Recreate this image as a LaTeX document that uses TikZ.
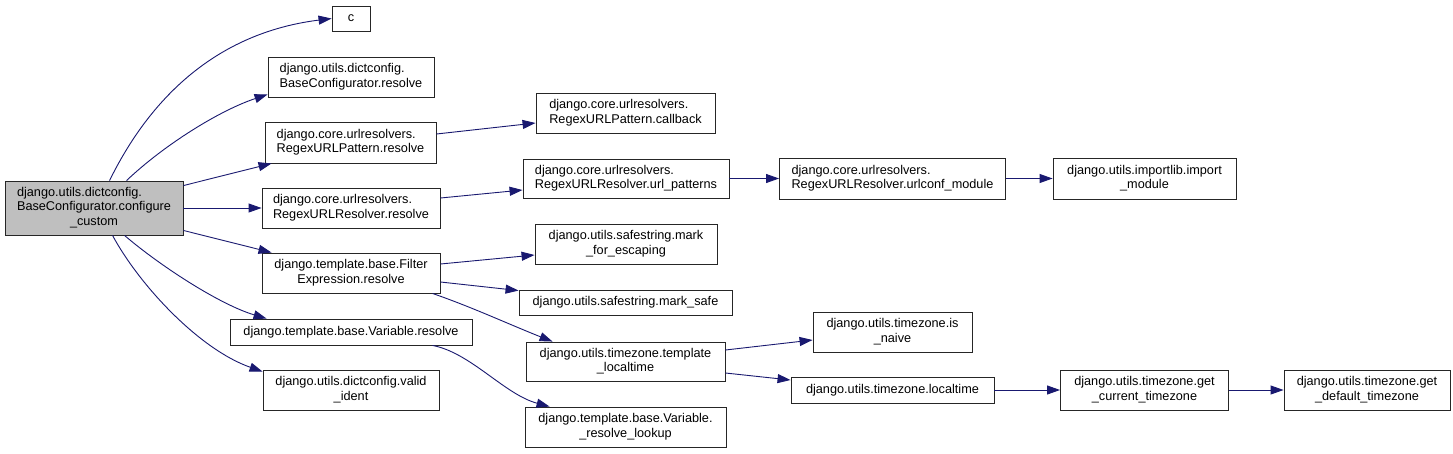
\documentclass[tikz,border=0pt]{standalone}
\usepackage{fontspec}
\setmainfont{Liberation Sans}
\usetikzlibrary{arrows.meta,calc}
\definecolor{edgeblue}{HTML}{191970}
\definecolor{mainfill}{HTML}{BFBFBF}
\newcommand{\twol}[2]{\begin{tabular}{@{}l@{}}#1\\\multicolumn{1}{@{}c@{}}{#2}\end{tabular}}
\begin{document}
\begin{tikzpicture}[x=1pt,y=-1pt,
  box/.style={draw=black!85, line width=0.9pt, fill=white, inner sep=0pt,
    font=\fontsize{12.7}{14.3}\selectfont},
  edge/.style={draw=edgeblue, line width=0.9pt, -{Triangle[length=13pt,width=9pt]}}]
\fill[white] (0,0) rectangle (1453,453);
\useasboundingbox (0,0) rectangle (1453,453);
% column 0
\node[box, fill=mainfill, minimum width=178pt, minimum height=54pt] (main) at (94,208)
  {\begin{tabular}{@{}l@{}}django.utils.dictconfig.\\BaseConfigurator.configure\\\multicolumn{1}{@{}c@{}}{\_custom}\end{tabular}};
% column 1
\node[box, minimum width=38pt, minimum height=25pt] (c) at (351,18.5) {c};
\node[box, minimum width=166pt, minimum height=40pt] (bres) at (351,77)
  {\twol{django.utils.dictconfig.}{BaseConfigurator.resolve}};
\node[box, minimum width=171pt, minimum height=41pt] (pres) at (350.5,142.5)
  {\twol{django.core.urlresolvers.}{RegexURLPattern.resolve}};
\node[box, minimum width=178pt, minimum height=40pt] (rres) at (351,208)
  {\twol{django.core.urlresolvers.}{RegexURLResolver.resolve}};
\node[box, minimum width=178pt, minimum height=40pt] (fres) at (351,273)
  {\twol{django.template.base.Filter}{Expression.resolve}};
\node[box, minimum width=242pt, minimum height=26pt] (vres) at (351,332)
  {django.template.base.Variable.resolve};
\node[box, minimum width=176pt, minimum height=40pt] (vid) at (351,390)
  {\twol{django.utils.dictconfig.valid}{\_ident}};
% column 2
\node[box, minimum width=179pt, minimum height=40pt] (cb) at (625.5,113)
  {\twol{django.core.urlresolvers.}{RegexURLPattern.callback}};
\node[box, minimum width=206pt, minimum height=39pt] (up) at (626,178.5)
  {\twol{django.core.urlresolvers.}{RegexURLResolver.url\_patterns}};
\node[box, minimum width=182pt, minimum height=40pt] (mfe) at (626,244)
  {\twol{django.utils.safestring.mark}{\_for\_escaping}};
\node[box, minimum width=213pt, minimum height=25pt] (ms) at (625.5,302.5)
  {django.utils.safestring.mark\_safe};
\node[box, minimum width=199pt, minimum height=39pt] (tl) at (625.5,361.5)
  {\twol{django.utils.timezone.template}{\_localtime}};
\node[box, minimum width=201pt, minimum height=40pt] (rl) at (625.5,427)
  {\twol{django.template.base.Variable.}{\_resolve\_lookup}};
% column 3
\node[box, minimum width=226pt, minimum height=41pt] (ucm) at (892.5,178.5)
  {\twol{django.core.urlresolvers.}{RegexURLResolver.urlconf\_module}};
\node[box, minimum width=159pt, minimum height=40pt] (nai) at (892.5,332)
  {\twol{django.utils.timezone.is}{\_naive}};
\node[box, minimum width=203pt, minimum height=26pt] (lt) at (892.5,390)
  {django.utils.timezone.localtime};
% column 4
\node[box, minimum width=183pt, minimum height=41pt] (imp) at (1144.5,178.5)
  {\twol{django.utils.importlib.import}{\_module}};
\node[box, minimum width=168pt, minimum height=40pt] (gct) at (1144.5,390)
  {\twol{django.utils.timezone.get}{\_current\_timezone}};
% column 5
\node[box, minimum width=166pt, minimum height=40pt] (gdt) at (1367,390)
  {\twol{django.utils.timezone.get}{\_default\_timezone}};
% edges
\draw[edge] ($(main.north west)+(105,0)$) .. controls +(30,-61) and +(-132,16.5) .. (c.west);
\draw[edge] ($(main.north west)+(122,0)$) .. controls +(38,-36) and +(-48,16) .. ($(bres.south west)+(0,-3)$);
\draw[edge] ($(main.north east)+(0,5)$) -- ($(pres.south west)+(7,0)$);
\draw[edge] (main.east) -- (rres.west);
\draw[edge] ($(main.south east)+(0,-5)$) -- ($(fres.north west)+(10,0)$);
\draw[edge] ($(main.south west)+(120,0)$) .. controls +(35,30) and +(-47,-14) .. ($(vres.north west)+(37,0)$);
\draw[edge] ($(main.south west)+(108,0)$) .. controls +(27,50) and +(-63,-22) .. ($(vid.north west)+(0,2)$);
\draw[edge] ($(pres.east)+(0,-8.5)$) -- ($(cb.west)+(0,10)$);
\draw[edge] ($(rres.east)+(0,-10)$) -- ($(up.west)+(0,11.5)$);
\draw[edge] (up.east) -- (ucm.west);
\draw[edge] (ucm.east) -- (imp.west);
\draw[edge] ($(fres.east)+(0,-9)$) -- ($(mfe.west)+(0,11)$);
\draw[edge] ($(fres.east)+(0,9)$) -- ($(ms.north west)+(0,1)$);
\draw[edge] ($(fres.south east)+(-8,0)$) .. controls +(38,13) and +(-43,-17) .. ($(tl.north west)+(27,0)$);
\draw[edge] ($(vres.south east)+(-40,0)$) .. controls +(38,7) and +(-45,-12) .. ($(rl.north west)+(25,0)$);
\draw[edge] ($(tl.east)+(0,-11.5)$) -- ($(nai.west)+(0,8)$);
\draw[edge] ($(tl.east)+(0,11.5)$) -- ($(lt.west)+(0,-10)$);
\draw[edge] (lt.east) -- (gct.west);
\draw[edge] (gct.east) -- (gdt.west);
\end{tikzpicture}
\end{document}
